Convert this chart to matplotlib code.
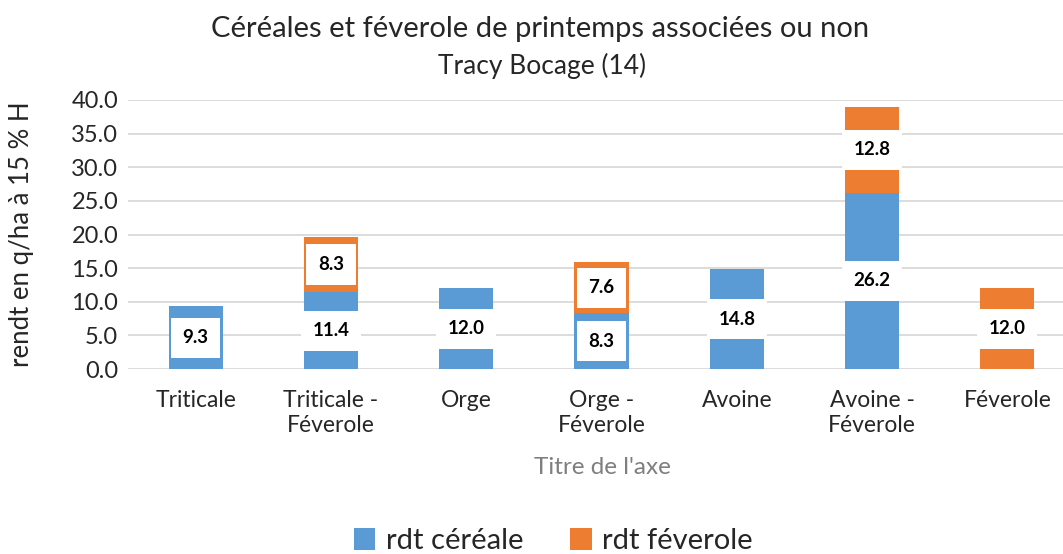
import matplotlib.pyplot as plt
import numpy as np

plt.rcParams["font.family"] = ["Lato", "DejaVu Sans"]

categories = ["Triticale", "Triticale -\nFéverole", "Orge", "Orge -\nFéverole",
              "Avoine", "Avoine -\nFéverole", "Féverole"]
rdt_cereale = [9.3, 11.4, 12.0, 8.3, 14.8, 26.2, 0.0]
rdt_feverole = [0.0, 8.3, 0.0, 7.6, 0.0, 12.8, 12.0]
yticks = [0, 5, 10, 15, 20, 25, 30, 35, 40]

blue = "#5B9BD5"
orange = "#ED7D31"
txt = "#262626"

fig = plt.figure(figsize=(10.63, 5.54), dpi=100)
ax = fig.add_axes([128 / 1063, 1 - 369 / 554, (1075 - 128) / 1063, (369 - 100) / 554])

x = np.arange(len(categories))
w = 0.4
ax.bar(x, rdt_cereale, w, color=blue, label="rdt céréale", zorder=2)
ax.bar(x, rdt_feverole, w, bottom=rdt_cereale, color=orange, label="rdt féverole", zorder=2)

box = dict(boxstyle="square,pad=0.62", fc="white", ec="none")
for i in range(len(categories)):
    if rdt_cereale[i] > 0:
        ax.text(x[i], rdt_cereale[i] / 2, f"{rdt_cereale[i]:.1f}", ha="center", va="center",
                fontsize=13.5, fontweight="bold", color="black", bbox=box, zorder=3)
    if rdt_feverole[i] > 0:
        ax.text(x[i], rdt_cereale[i] + rdt_feverole[i] / 2, f"{rdt_feverole[i]:.1f}",
                ha="center", va="center", fontsize=13.5, fontweight="bold",
                color="black", bbox=box, zorder=3)

ax.set_xlim(-0.5, len(categories) - 0.5)
ax.set_ylim(0, 40)
ax.set_yticks(yticks)
ax.set_yticklabels([f"{v:.1f}" for v in yticks], fontsize=17, color=txt)
ax.set_xticks(x)
ax.set_xticklabels(categories, fontsize=16.5, color=txt, linespacing=1.25)
ax.tick_params(axis="x", length=0, pad=15)
ax.tick_params(axis="y", length=0, pad=7)
ax.grid(axis="y", color="#D9D9D9", linewidth=1.3, zorder=0)
for s in ax.spines.values():
    s.set_visible(False)

ax.set_ylabel("rendt en q/ha à 15 % H", fontsize=18.5, color=txt, va="center")
ax.yaxis.set_label_coords((22 - 128) / 947, 0.5)
ax.set_xlabel("Titre de l'axe", fontsize=17.5, color="#7F7F7F", va="center")
ax.xaxis.set_label_coords((602 - 128) / 947, -(467 - 369) / 269)

fig.text(540 / 1063, 1 - 29 / 554, "Céréales et féverole de printemps associées ou non",
         ha="center", va="center", fontsize=21, color=txt)
fig.text(542 / 1063, 1 - 66 / 554, "Tracy Bocage (14)", ha="center", va="center",
         fontsize=19, color=txt)

fig.legend(loc="center", bbox_to_anchor=(553 / 1063, 1 - 541 / 554), ncol=2, frameon=False,
           fontsize=21, handlelength=0.75, handleheight=0.75, handletextpad=0.35,
           columnspacing=1.6, labelcolor=txt)

fig.savefig("out.png", dpi=100)
